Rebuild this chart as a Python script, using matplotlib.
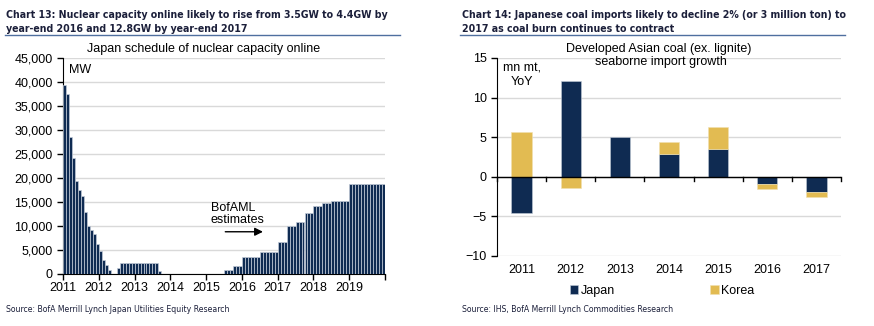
import numpy as np
import matplotlib
matplotlib.use("Agg")
import matplotlib.pyplot as plt
from matplotlib.lines import Line2D

plt.rcParams['font.family'] = ['Liberation Sans', 'DejaVu Sans']
NARROW = dict(family='DejaVu Sans', stretch='condensed')

# Chart 13: monthly nuclear capacity online (MW), Jan 2011 - Dec 2019
years = [2011, 2012, 2013, 2014, 2015, 2016, 2017, 2018, 2019]
capacity_mw = [
    39300, 37400, 28600, 24200, 19400, 17500, 16300, 12900, 9900, 9200, 8400, 6300,       # 2011
    4800, 2850, 1950, 850, 0, 0, 1150, 2350, 2350, 2350, 2350, 2350,                       # 2012
    2350, 2350, 2350, 2350, 2350, 2350, 2350, 2350, 600, 0, 0, 0,                          # 2013
    0, 0, 0, 0, 0, 0, 0, 0, 0, 0, 0, 0,                                                    # 2014
    0, 0, 0, 0, 0, 0, 800, 800, 800, 1700, 1700, 1700,                                     # 2015
    3450, 3450, 3450, 3450, 3450, 3450, 4500, 4500, 4500, 4500, 4500, 4500,                # 2016
    6700, 6700, 6700, 10000, 10000, 10000, 10850, 10850, 10850, 12750, 12750, 12750,       # 2017
    14200, 14200, 14200, 14700, 14700, 14700, 15250, 15250, 15250, 15250, 15250, 15250,    # 2018
    18850, 18850, 18850, 18850, 18850, 18850, 18850, 18850, 18850, 18850, 18850, 18850,    # 2019
]

# Chart 14: seaborne coal import growth (mn mt, YoY)
coal_years = ['2011', '2012', '2013', '2014', '2015', '2016', '2017']
japan = [-4.55, 12.15, 5.0, 2.85, 3.5, -0.95, -1.95]
korea = [5.65, -1.4, -0.05, 1.6, 2.8, -0.55, -0.55]

NAVY = '#0f2b52'
GOLD = '#e2bb52'
GRID = '#d9d9d9'
TITLE_C = '#1b1f3a'

W, H = 874, 326
fig = plt.figure(figsize=(W / 100, H / 100), dpi=100)


def px_axes(x0, y0, x1, y1):
    return fig.add_axes([x0 / W, 1 - y1 / H, (x1 - x0) / W, (y1 - y0) / H])


def px_text(x, y, s, **kw):
    return fig.text(x / W, 1 - y / H, s, **kw)


# ---------------- left chart ----------------
px_text(6, 17.5, "Chart 13: Nuclear capacity online likely to rise from 3.5GW to 4.4GW by",
        weight='bold', fontsize=7.6, color=TITLE_C, va='baseline', **NARROW)
px_text(6, 31.5, "year-end 2016 and 12.8GW by year-end 2017",
        weight='bold', fontsize=7.6, color=TITLE_C, va='baseline', **NARROW)
fig.add_artist(Line2D([5 / W, 400 / W], [1 - 35 / H, 1 - 35 / H], color='#4f6f9f', lw=1))

ax1 = px_axes(63, 58, 385, 274)
months = np.arange(len(capacity_mw))
ax1.bar(months + 0.5, capacity_mw, width=1.0, color=NAVY, edgecolor='#c3ccd8', linewidth=0.5, zorder=3)
ax1.set_xlim(0, 108)
ax1.set_ylim(0, 45000)
ax1.set_yticks(np.arange(0, 45001, 5000))
ax1.set_yticklabels([f"{v:,}" for v in range(0, 45001, 5000)])
ax1.set_xticks(np.arange(0, 109, 12))
ax1.set_xticklabels([str(y) for y in years] + [''])
ax1.grid(axis='y', color=GRID, lw=1, zorder=0)
for s in ['top', 'right']:
    ax1.spines[s].set_visible(False)
ax1.tick_params(axis='both', labelsize=9, length=4, width=1, direction='out')
ax1.tick_params(axis='x', pad=2)
px_text(204, 49, "Japan schedule of nuclear capacity online", ha='center', va='center', fontsize=9)
ax1.text(2, 42500, "MW", fontsize=9, va='center')
ax1.text(49.5, 12500, "BofAML\nestimates", fontsize=9, va='center', linespacing=1.05)
ax1.annotate("", xy=(68, 8800), xytext=(53.5, 8800),
             arrowprops=dict(arrowstyle='-|>', color='black', lw=1, mutation_scale=12))

px_text(6, 312, "Source: BofA Merrill Lynch Japan Utilities Equity Research",
        fontsize=6.2, color=TITLE_C, va='baseline', **NARROW)

# ---------------- right chart ----------------
px_text(462, 17.5, "Chart 14: Japanese coal imports likely to decline 2% (or 3 million ton) to",
        weight='bold', fontsize=7.6, color=TITLE_C, va='baseline', **NARROW)
px_text(462, 31.5, "2017 as coal burn continues to contract",
        weight='bold', fontsize=7.6, color=TITLE_C, va='baseline', **NARROW)
fig.add_artist(Line2D([460 / W, 845 / W], [1 - 35 / H, 1 - 35 / H], color='#4f6f9f', lw=1))

ax2 = px_axes(497, 58, 841, 256)
x = np.arange(len(coal_years))
japan_a = np.array(japan)
korea_a = np.array(korea)
korea_bottom = np.where(np.sign(korea_a) == np.sign(japan_a), japan_a, 0)
ax2.bar(x, japan_a, width=0.41, color=NAVY, edgecolor='#c3ccd8', linewidth=0.4, zorder=3, label='Japan')
ax2.bar(x, korea_a, bottom=korea_bottom, width=0.41, color=GOLD, edgecolor='#f0e0b0',
        linewidth=0.4, zorder=3, label='Korea')
ax2.set_xlim(-0.5, 6.5)
ax2.set_ylim(-10, 15)
ax2.set_yticks([-10, -5, 0, 5, 10, 15])
ax2.grid(axis='y', color=GRID, lw=1, zorder=0)
for s in ['top', 'right', 'bottom']:
    ax2.spines[s].set_visible(False)
ax2.axhline(0, color='black', lw=1, zorder=4)
ax2.set_xticks(x)
ax2.set_xticklabels(coal_years)
ax2.tick_params(axis='x', length=0, pad=6, labelsize=9)
ax2.tick_params(axis='y', labelsize=9, length=4, width=1)
for b in np.arange(-0.5, 6.6, 1):
    ax2.plot([b, b], [0, -0.5], color='black', lw=1, zorder=4, clip_on=False)
px_text(659, 49, "Developed Asian coal (ex. lignite)", ha='center', va='center', fontsize=9)
px_text(661, 62, "seaborne import growth", ha='center', va='center', fontsize=9)
ax2.text(0.0, 12.8, "mn mt,\nYoY", ha='center', va='center', fontsize=9, linespacing=1.1)
ax2.legend(loc='center', bbox_to_anchor=(0.48, -0.175), ncol=2, frameon=False, fontsize=9,
           handlelength=0.7, handleheight=0.7, handletextpad=0.2, columnspacing=7.6)

px_text(462, 312, "Source: IHS, BofA Merrill Lynch Commodities Research",
        fontsize=6.2, color=TITLE_C, va='baseline', **NARROW)

fig.savefig("out.png", dpi=100)
